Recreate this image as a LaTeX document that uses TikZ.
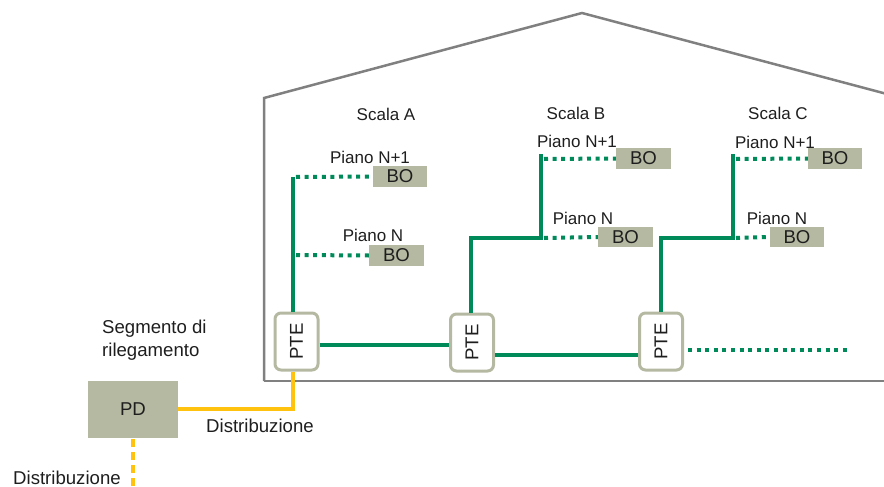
\documentclass[tikz,border=0pt]{standalone}
\usepackage{fontspec}
\setmainfont{Liberation Sans}
\definecolor{gr}{RGB}{0,138,90}
\definecolor{bo}{RGB}{182,185,162}
\definecolor{yl}{RGB}{255,194,14}
\definecolor{wall}{RGB}{128,128,128}
\definecolor{txt}{RGB}{30,30,30}
\begin{document}
\begin{tikzpicture}[x=1pt,y=-1pt,
  every node/.style={font=\fontsize{17}{22}\selectfont, text=txt, inner sep=0pt},
  big/.style={font=\fontsize{18.6}{23}\selectfont},
  bobox/.style={big, fill=bo, minimum width=55pt, minimum height=21pt},
  pte/.style={big, draw=bo, line width=3pt, fill=white, rounded corners=6pt, rotate=90, minimum width=57pt, minimum height=43pt},
  pdbox/.style={big, fill=bo, minimum width=90pt, minimum height=57pt},
  gline/.style={draw=gr, line width=3.5pt},
  gdot/.style={draw=gr, line width=4pt, dash pattern=on 4pt off 4.6pt},
  yline/.style={draw=yl, line width=4pt},
  ydash/.style={draw=yl, line width=4pt, dash pattern=on 8pt off 5pt},
  wallline/.style={draw=wall, line width=2.5pt}]
\useasboundingbox (0,0) rectangle (884,487);
\clip (0,0) rectangle (884,487);
% building
\draw[wallline] (264,381) -- (264,98) -- (582,13) -- (902,98);
\draw[wallline] (264,381) -- (890,381);
% labels
\node (sA) at (386,114) {Scala A};
\node (sB) at (576,113) {Scala B};
\node (sC) at (778,113) {Scala C};
\node (pA1) at (370,157) {Piano N+1};
\node (pA2) at (373,235) {Piano N};
\node (pB1) at (577,141) {Piano N+1};
\node (pB2) at (583,218) {Piano N};
\node (pC1) at (775,142) {Piano N+1};
\node (pC2) at (777,218) {Piano N};
% coordinates
\coordinate (jA1) at (293,177);
\coordinate (jA2) at (293,255);
\coordinate (jB1) at (541,159);
\coordinate (jB2) at (541,238);
\coordinate (jC1) at (733,159);
\coordinate (jC2) at (733,238);
\coordinate (endC) at (848,350);
\coordinate (yA) at (293,409);
\coordinate (pdEnd) at (133,492);
% BO boxes
\node[bobox, minimum width=54pt] (boA1) at (400,176.5) {BO};
\node[bobox] (boA2) at (396.5,255.5) {BO};
\node[bobox] (boB1) at (643.5,158.5) {BO};
\node[bobox, minimum height=20pt] (boB2) at (625.5,237) {BO};
\node[bobox, minimum width=54pt] (boC1) at (835,158.5) {BO};
\node[bobox, minimum width=54pt, minimum height=20pt] (boC2) at (797,237) {BO};
% PD
\node[pdbox] (pd) at (133,409.5) {PD};
\node[big, anchor=west, align=left] (seg) at (102,340.5) {Segmento di\\rilegamento};
\node[big, anchor=west] (d1) at (206,426) {Distribuzione};
\node[big, anchor=west] (d2) at (13,478) {Distribuzione};
% PTE nodes (rotated: east=top, west=bottom, north=left, south=right)
\node[pte] (pteA) at (296.5,341.5) {PTE};
\node[pte] (pteB) at (472,342.5) {PTE};
\node[pte] (pteC) at (661,341.5) {PTE};
% green connectors
\draw[gline] (jA1 |- pteA.east) -- (jA1);
\draw[gdot] ([xshift=3pt]jA1) -- (boA1.west);
\draw[gdot] ([xshift=3pt]jA2) -- (boA2.west);
\draw[gline] (pteA.south |- 0,345) -- (pteB.north |- 0,345);
\draw[gline] (pteB.south |- 0,355) -- (pteC.north |- 0,355);
\draw[gdot] ([xshift=4pt]pteC.south |- endC) -- (endC);
\draw[gline] ([xshift=-1pt]pteB.east) -- ([xshift=-1pt]pteB.east |- jB2) -- (jB2) -- ([yshift=5pt]jB1);
\draw[gdot] ([xshift=3pt]jB1) -- (boB1.west);
\draw[gdot] ([xshift=3pt]jB2) -- (boB2.west);
\draw[gline] (pteC.east) -- (pteC.east |- jC2) -- (jC2) -- ([yshift=5pt]jC1);
\draw[gdot] ([xshift=3pt]jC1) -- (boC1.west);
\draw[gdot] ([xshift=3pt]jC2) -- (boC2.west);
% yellow
\draw[yline] (pd.east |- yA) -- (yA) -- (yA |- pteA.west);
\draw[ydash] ([yshift=-1pt]pd.south) -- (pdEnd);
\end{tikzpicture}
\end{document}
